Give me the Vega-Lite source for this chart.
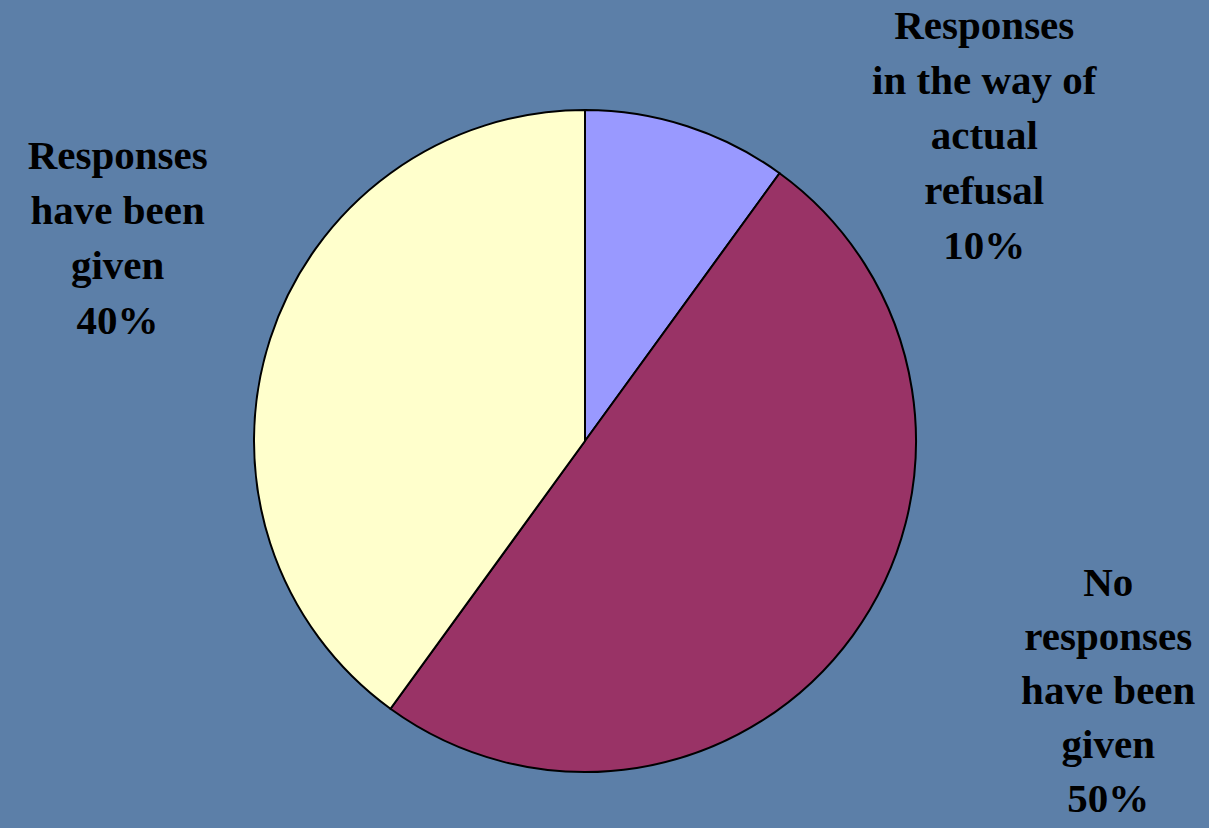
{
  "$schema": "https://vega.github.io/schema/vega-lite/v6.json",
  "width": 1170,
  "height": 774,
  "padding": {"left": 0, "top": 54, "right": 39, "bottom": 0},
  "autosize": {"type": "none"},
  "background": "#5c7fa8",
  "view": {"stroke": null},
  "data": {
    "values": [
      {"key": "refusal", "category": "Responses in the way of actual refusal", "value": 10, "label": "Responses\nin the way of\nactual\nrefusal\n10%"},
      {"key": "none", "category": "No responses have been given", "value": 50, "label": "No\nresponses\nhave been\ngiven\n50%"},
      {"key": "given", "category": "Responses have been given", "value": 40, "label": "Responses\nhave been\ngiven\n40%"}
    ]
  },
  "encoding": {
    "theta": {"field": "value", "type": "quantitative", "stack": true, "scale": {"range": [0.6283185, 6.9115038]}},
    "order": {"field": "value", "type": "quantitative", "sort": "descending"}
  },
  "layer": [
    {
      "mark": {"type": "arc", "radius": 331, "stroke": "#000000", "strokeWidth": 2},
      "encoding": {
        "color": {
          "field": "category",
          "type": "nominal",
          "scale": {
            "domain": ["Responses in the way of actual refusal", "No responses have been given", "Responses have been given"],
            "range": ["#9999ff", "#993366", "#ffffcc"]
          },
          "legend": null
        }
      }
    },
    {
      "mark": {"type": "text", "radius": 360, "dx": 288, "dy": -72, "font": "Liberation Serif", "fontWeight": "bold", "fontSize": 41, "lineHeight": 55, "lineBreak": "\n", "align": "center", "baseline": "middle", "color": "#000000"},
      "encoding": {
        "text": {"field": "label", "condition": {"test": "datum.key !== 'refusal'", "value": ""}}
      }
    },
    {
      "mark": {"type": "text", "radius": 360, "dx": 232, "dy": -69, "font": "Liberation Serif", "fontWeight": "bold", "fontSize": 41, "lineHeight": 54, "lineBreak": "\n", "align": "center", "baseline": "middle", "color": "#000000"},
      "encoding": {
        "text": {"field": "label", "condition": {"test": "datum.key !== 'none'", "value": ""}}
      }
    },
    {
      "mark": {"type": "text", "radius": 360, "dx": -125, "dy": -173, "font": "Liberation Serif", "fontWeight": "bold", "fontSize": 41, "lineHeight": 55, "lineBreak": "\n", "align": "center", "baseline": "middle", "color": "#000000"},
      "encoding": {
        "text": {"field": "label", "condition": {"test": "datum.key !== 'given'", "value": ""}}
      }
    }
  ]
}
